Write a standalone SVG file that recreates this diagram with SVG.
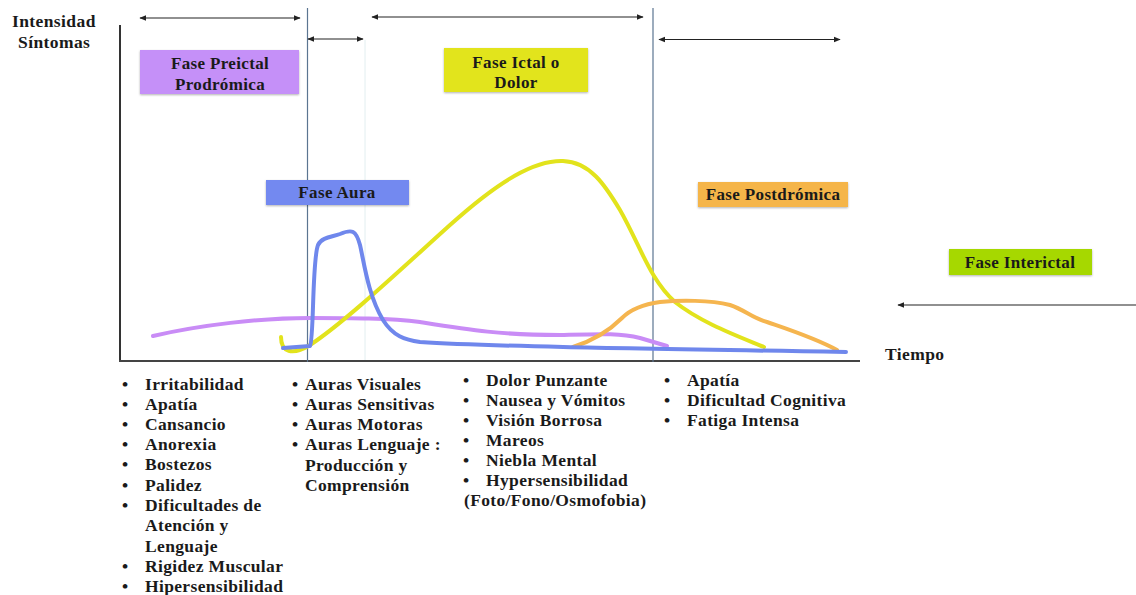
<svg xmlns="http://www.w3.org/2000/svg" width="1136" height="595" viewBox="0 0 1136 595">
<style>
text{font-family:"Liberation Serif","DejaVu Serif",serif;font-weight:bold;fill:#1a1a1a}
.t{font-size:17.5px;letter-spacing:0.4px}
.b{font-size:17.5px;letter-spacing:0.35px}
.box{font-size:17px;letter-spacing:0.35px;text-anchor:middle}
.arr{stroke:#222;stroke-width:1.2;fill:none}
.vl{stroke:#5b7591;stroke-width:1.2}
.crv{fill:none;stroke-width:4;stroke-linecap:round;stroke-linejoin:round}
</style>
<defs>
<marker id="ah" viewBox="0 0 10 10" refX="9" refY="5" markerWidth="7" markerHeight="7" markerUnits="userSpaceOnUse" orient="auto-start-reverse"><path d="M0,1 L10,5 L0,9 Z" fill="#222"/></marker>
<filter id="sh" x="-10%" y="-20%" width="120%" height="150%"><feDropShadow dx="0" dy="1" stdDeviation="1.2" flood-color="#000" flood-opacity="0.3"/></filter>
</defs>
<rect width="1136" height="595" fill="#fff"/>

<g id="axes">
<line x1="120" y1="25" x2="120" y2="361" stroke="#333" stroke-width="2"/>
<line x1="119" y1="361" x2="860" y2="361" stroke="#444" stroke-width="2"/>
<text class="t" x="12" y="27">Intensidad</text>
<text class="t" x="18" y="48">Síntomas</text>
<text class="t" x="885" y="360">Tiempo</text>
</g>

<g id="dividers">
<line class="vl" x1="307.5" y1="8" x2="307.5" y2="362"/>
<line class="vl" x1="653" y1="8" x2="653" y2="362"/>
<line x1="365" y1="40" x2="365" y2="360" stroke="#e2eef0" stroke-width="1"/>
</g>

<g id="connectors">
<line class="arr" x1="140" y1="18" x2="300" y2="18" marker-start="url(#ah)" marker-end="url(#ah)"/>
<line class="arr" x1="308" y1="39" x2="363" y2="39" marker-start="url(#ah)" marker-end="url(#ah)"/>
<line class="arr" x1="372" y1="17" x2="643" y2="17" stroke="#555" marker-start="url(#ah)" marker-end="url(#ah)"/>
<line class="arr" x1="659" y1="39.5" x2="840" y2="39.5" marker-start="url(#ah)" marker-end="url(#ah)"/>
<line class="arr" x1="898" y1="305" x2="1136" y2="305" marker-start="url(#ah)"/>
</g>

<g id="curves">
<path class="crv" stroke="#c98cf6" d="M153,336 C200,325 260,318 310,318 C350,318 390,318 420,322 C470,330 500,335 560,335 C600,334 620,333 640,338 L667,346"/>
<path class="crv" stroke="#e2e31c" d="M281,337 C281,352 292,356 310,345 C345,322 400,270 450,225 C500,180 535,160 563,161 C590,162 605,185 620,210 C640,245 650,280 675,302 C700,322 735,335 764,347"/>
<path class="crv" stroke="#f5b54f" d="M573,347 C595,340 610,330 622,318 C632,308 645,304 660,302 C680,300 710,300 730,305 C745,310 752,318 767,322 C790,330 815,338 837,350"/>
<path class="crv" stroke="#6f87ec" d="M283,348 L310,346 C314,340 312,260 318,245 C322,237 332,237 340,234 C352,229 356,230 360,245 C364,262 368,295 383,320 C393,336 405,340 420,342 C480,346 600,348 846,352"/>
</g>

<g id="fase-preictal">
<rect x="140" y="50" width="159" height="44" fill="#c590f8" filter="url(#sh)"/>
<text class="box" x="220" y="69">Fase Preictal</text>
<text class="box" x="220" y="90">Prodrómica</text>
</g>
<g id="fase-ictal">
<rect x="444" y="48" width="144" height="44" fill="#e2e41a" filter="url(#sh)"/>
<text class="box" x="516" y="68">Fase Ictal o</text>
<text class="box" x="516" y="88">Dolor</text>
</g>
<g id="fase-aura">
<rect x="266" y="180" width="143" height="25" fill="#7389f0" filter="url(#sh)"/>
<text class="box" x="337" y="198">Fase Aura</text>
</g>
<g id="fase-postdromica">
<rect x="698" y="182" width="150" height="25" fill="#f5b54a" filter="url(#sh)"/>
<text class="box" x="773" y="200">Fase Postdrómica</text>
</g>
<g id="fase-interictal">
<rect x="949" y="249" width="143" height="26" fill="#a6d800" filter="url(#sh)"/>
<text class="box" x="1020" y="268">Fase Interictal</text>
</g>

<g id="list-preictal" class="b">
<text x="122" y="390">•</text><text x="145" y="390">Irritabilidad</text>
<text x="122" y="410">•</text><text x="145" y="410">Apatía</text>
<text x="122" y="430">•</text><text x="145" y="430">Cansancio</text>
<text x="122" y="450">•</text><text x="145" y="450">Anorexia</text>
<text x="122" y="470">•</text><text x="145" y="470">Bostezos</text>
<text x="122" y="491">•</text><text x="145" y="491">Palidez</text>
<text x="122" y="511">•</text><text x="145" y="511">Dificultades de</text>
<text x="145" y="531">Atención y</text>
<text x="145" y="552">Lenguaje</text>
<text x="122" y="572">•</text><text x="145" y="572">Rigidez Muscular</text>
<text x="122" y="592">•</text><text x="145" y="592">Hipersensibilidad</text>
</g>
<g id="list-aura" class="b">
<text x="292" y="390">•</text><text x="305" y="390">Auras Visuales</text>
<text x="292" y="410">•</text><text x="305" y="410">Auras Sensitivas</text>
<text x="292" y="430">•</text><text x="305" y="430">Auras Motoras</text>
<text x="292" y="450">•</text><text x="305" y="450">Auras Lenguaje :</text>
<text x="305" y="471">Producción y</text>
<text x="305" y="491">Comprensión</text>
</g>
<g id="list-ictal" class="b">
<text x="463" y="386">•</text><text x="486" y="386">Dolor Punzante</text>
<text x="463" y="406">•</text><text x="486" y="406">Nausea y Vómitos</text>
<text x="463" y="426">•</text><text x="486" y="426">Visión Borrosa</text>
<text x="463" y="446">•</text><text x="486" y="446">Mareos</text>
<text x="463" y="466">•</text><text x="486" y="466">Niebla Mental</text>
<text x="463" y="486">•</text><text x="486" y="486">Hypersensibilidad</text>
<text x="464" y="506">(Foto/Fono/Osmofobia)</text>
</g>
<g id="list-postdromica" class="b">
<text x="664" y="386">•</text><text x="687" y="386">Apatía</text>
<text x="664" y="406">•</text><text x="687" y="406">Dificultad Cognitiva</text>
<text x="664" y="426">•</text><text x="687" y="426">Fatiga Intensa</text>
</g>
</svg>
